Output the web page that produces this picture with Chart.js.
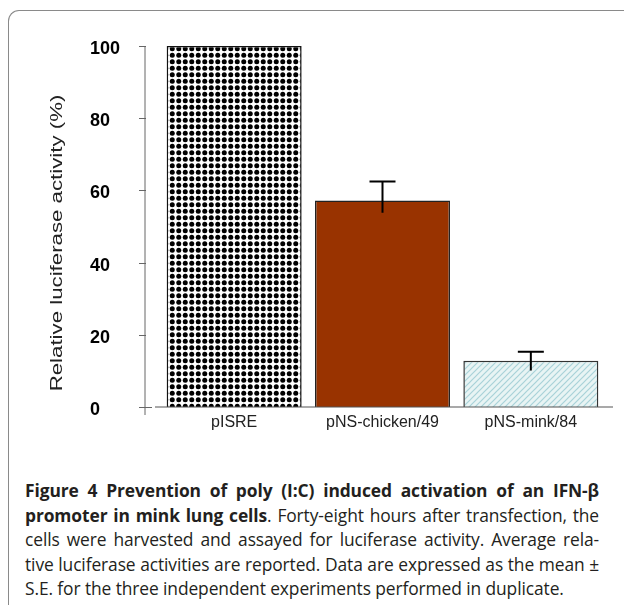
<!DOCTYPE html>
<html>
<head>
<meta charset="utf-8">
<script src="https://cdn.jsdelivr.net/npm/chart.js@4.4.1/dist/chart.umd.min.js"></script>
<style>
  html, body { margin: 0; padding: 0; background: #fff; width: 624px; height: 605px; overflow: hidden; }
  #frame { position: absolute; left: 8px; top: 10px; width: 700px; height: 700px;
           border-top: 1px solid #8a8a8a; border-left: 1px solid #8a8a8a; border-top-left-radius: 11px; }
  #wrap { position: absolute; left: 0; top: 0; width: 624px; height: 440px; }
  #caption { position: absolute; left: 25px; top: 478px; width: 574px; color: #231f20;
             font-family: "Open Sans", Lato, sans-serif; font-size: 17.4px; letter-spacing: -0.1px;
             line-height: 24.5px; }
  #caption div { text-align: justify; text-align-last: justify; white-space: nowrap; }
  #caption div.last { text-align-last: left; }
</style>
</head>
<body>
<div id="frame"></div>
<div id="wrap"><canvas id="myChart"></canvas></div>
<div id="caption">
  <div><b>Figure 4 Prevention of poly (I:C) induced activation of an IFN-β</b></div>
  <div><b>promoter in mink lung cells</b>. Forty-eight hours after transfection, the</div>
  <div>cells were harvested and assayed for luciferase activity. Average rela-</div>
  <div>tive luciferase activities are reported. Data are expressed as the mean ±</div>
  <div class="last">S.E. for the three independent experiments performed in duplicate.</div>
</div>
<script>
var categories = ['pISRE', 'pNS-chicken/49', 'pNS-mink/84'];
var activity = [100, 57.2, 12.8];
var errUp = [0, 5.3, 2.5];
var errDown = [0, 3.4, 2.7];
var yTicks = [0, 20, 40, 60, 80, 100];
var yTitle = 'Relative luciferase activity (%)';

// fill patterns for the bars
function dotPattern() {
    var c = document.createElement('canvas');
    c.width = 13; c.height = 13;
    var g = c.getContext('2d');
    g.fillStyle = '#fff';
    g.fillRect(0, 0, 13, 13);
    g.fillStyle = '#000';
    [[3.25, 3.25], [9.75, 3.25], [3.25, 9.75], [9.75, 9.75]].forEach(function (p) {
        g.beginPath();
        g.arc(p[0], p[1], 2.5, 0, Math.PI * 2);
        g.fill();
    });
    return g.createPattern(c, 'repeat');
}

function hatchPattern() {
    var c = document.createElement('canvas');
    c.width = 6; c.height = 6;
    var g = c.getContext('2d');
    g.fillStyle = '#e8f4f4';
    g.fillRect(0, 0, 6, 6);
    g.strokeStyle = '#a8d2d8';
    g.lineWidth = 1.2;
    g.beginPath();
    g.moveTo(0, 6); g.lineTo(6, 0);
    g.moveTo(-1, 1); g.lineTo(1, -1);
    g.moveTo(5, 7); g.lineTo(7, 5);
    g.stroke();
    return g.createPattern(c, 'repeat');
}

var ctx = document.getElementById('myChart');

var axesAndErrors = {
    id: 'axesAndErrors',
    afterDatasetsDraw: function (chart) {
        var c = chart.ctx;
        var y = chart.scales.y;
        var area = chart.chartArea;
        var meta = chart.getDatasetMeta(0);
        c.save();

        // error bars
        c.strokeStyle = '#000';
        c.lineWidth = 2;
        meta.data.forEach(function (bar, i) {
            if (!errUp[i] && !errDown[i]) return;
            var top = y.getPixelForValue(activity[i] + errUp[i]);
            var bot = y.getPixelForValue(activity[i] - errDown[i]);
            c.beginPath();
            c.moveTo(bar.x, bot); c.lineTo(bar.x, top);
            c.moveTo(bar.x - 13, top); c.lineTo(bar.x + 13, top);
            c.stroke();
        });

        // y axis line, detached from the plot
        var ax = area.left - 15;
        c.strokeStyle = '#666';
        c.lineWidth = 1;
        c.beginPath();
        c.moveTo(ax, y.getPixelForValue(100));
        c.lineTo(ax, area.bottom + 8);
        yTicks.forEach(function (v) {
            var py = Math.round(y.getPixelForValue(v)) + 0.5;
            c.moveTo(ax - 6, py);
            c.lineTo(v === 0 ? ax + 7 : ax + 1, py);
        });
        c.stroke();

        // baseline
        c.strokeStyle = '#555';
        c.lineWidth = 1.2;
        c.beginPath();
        c.moveTo(area.left - 5, area.bottom);
        c.lineTo(area.right + 8, area.bottom);
        c.stroke();

        // y title, stretched along its length like the original
        c.translate(58, 243);
        c.rotate(-Math.PI / 2);
        c.scale(1.39, 1);
        c.fillStyle = '#222';
        c.font = '16px "Liberation Sans", Arial, sans-serif';
        c.textAlign = 'center';
        c.textBaseline = 'middle';
        c.fillText(yTitle, 0, 0);
        c.restore();
    }
};

var myChart = new Chart(ctx, {
    type: 'bar',
    data: {
        labels: categories,
        datasets: [{
            data: activity,
            backgroundColor: [dotPattern(), '#993300', hatchPattern()],
            borderColor: ['#111', '#222', '#333'],
            borderWidth: 1.5,
            barPercentage: 0.91,
            categoryPercentage: 1
        }]
    },
    options: {
        responsive: true,
        maintainAspectRatio: false,
        animation: false,
        layout: { padding: { left: 90, right: 19, top: 46, bottom: 0 } },
        plugins: { legend: { display: false }, tooltip: { enabled: false } },
        scales: {
            x: {
                grid: { display: false },
                border: { display: false },
                ticks: {
                    color: '#222',
                    padding: -2,
                    font: { family: '"Liberation Sans", Arial, sans-serif', size: 16 }
                },
                afterFit: function (scale) { scale.height = 33; }
            },
            y: {
                min: 0,
                max: 100,
                grid: { display: false },
                border: { display: false },
                ticks: {
                    stepSize: 20,
                    crossAlign: 'far',
                    labelOffset: 3,
                    color: '#000',
                    font: { family: '"Liberation Sans", Arial, sans-serif', size: 18, weight: 'bold' }
                },
                afterFit: function (scale) { scale.width = 70; }
            }
        }
    },
    plugins: [axesAndErrors]
});
</script>
</body>
</html>
